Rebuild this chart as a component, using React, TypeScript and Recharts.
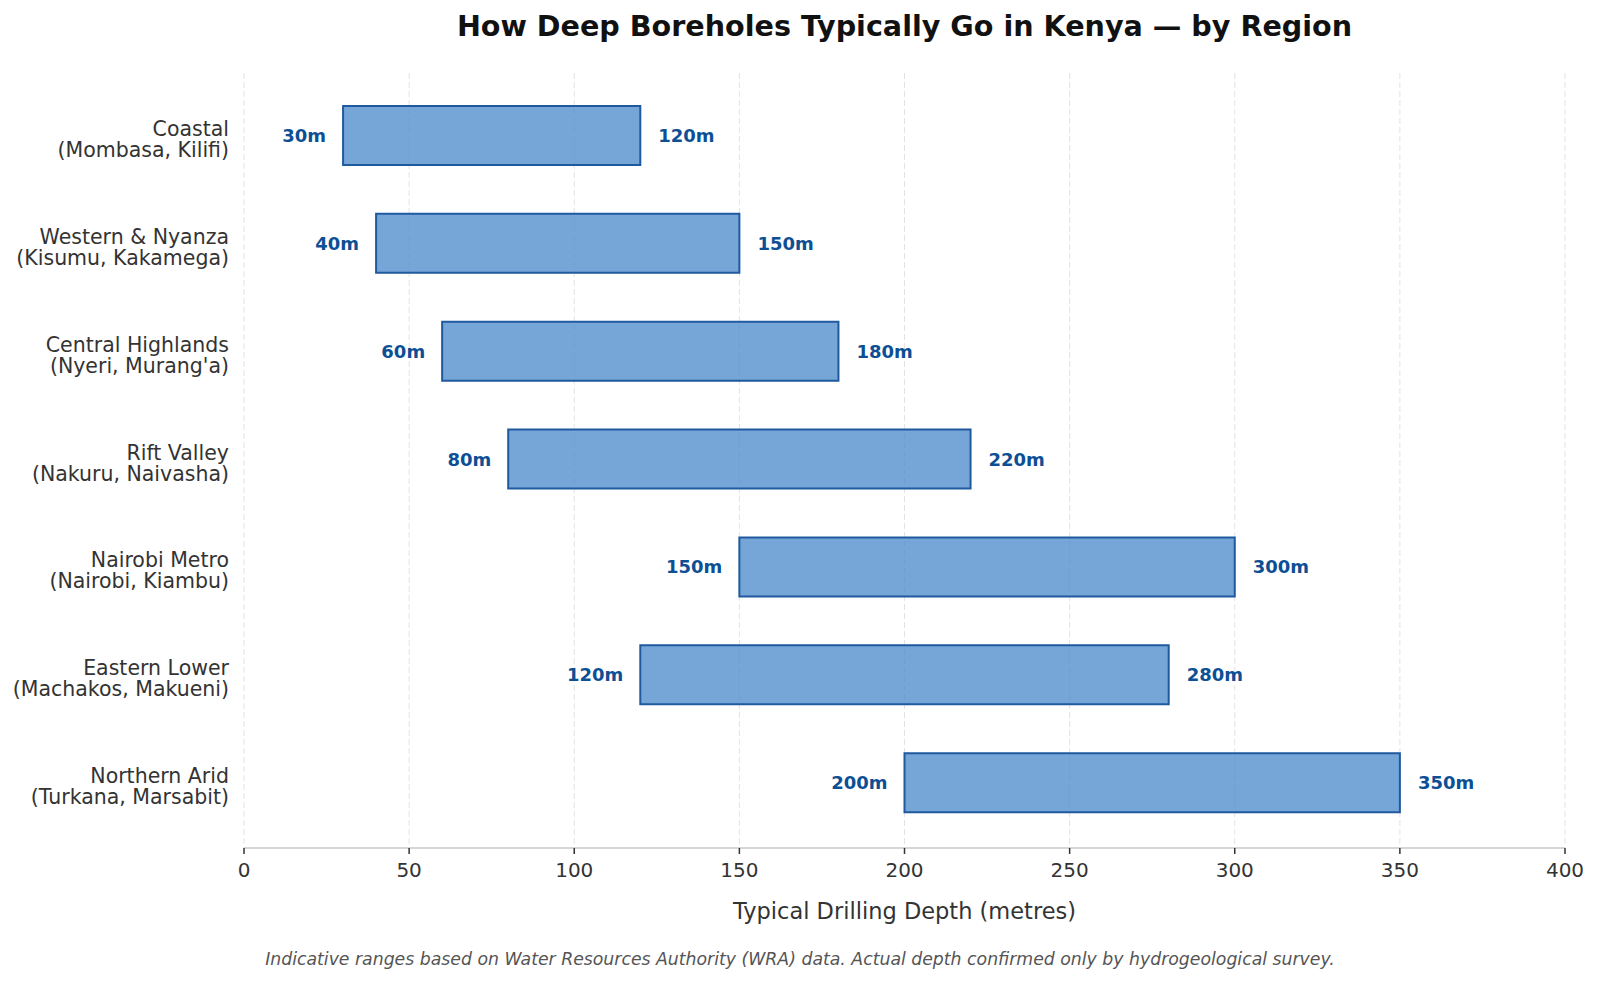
import React from "react";
import {
  BarChart,
  Bar,
  XAxis,
  YAxis,
  CartesianGrid,
  LabelList,
} from "recharts";

const regions = [
  "Coastal",
  "Western & Nyanza",
  "Central Highlands",
  "Rift Valley",
  "Nairobi Metro",
  "Eastern Lower",
  "Northern Arid",
];
const counties = [
  "(Mombasa, Kilifi)",
  "(Kisumu, Kakamega)",
  "(Nyeri, Murang'a)",
  "(Nakuru, Naivasha)",
  "(Nairobi, Kiambu)",
  "(Machakos, Makueni)",
  "(Turkana, Marsabit)",
];
const minDepth = [30, 40, 60, 80, 150, 120, 200];
const maxDepth = [120, 150, 180, 220, 300, 280, 350];
const xTicks = [0, 50, 100, 150, 200, 250, 300, 350, 400];

const FONT = "'DejaVu Sans', Verdana, sans-serif";
const LABEL_BLUE = "#0d4f94";

const data = regions.map((r, i) => ({
  name: r,
  sub: counties[i],
  min: minDepth[i],
  max: maxDepth[i],
  span: maxDepth[i] - minDepth[i],
}));

function RegionTick(props: any) {
  const { x, y, payload, index } = props;
  const sub = counties[index] ?? data.find((d) => d.name === payload.value)?.sub;
  return (
    <text textAnchor="end" fontFamily={FONT} fontSize={20.5} fill="#333">
      <tspan x={x} y={y}>{payload.value}</tspan>
      <tspan x={x} y={y + 21}>{sub}</tspan>
    </text>
  );
}

function MinLabel(props: any) {
  const { x, y, width, height, value } = props;
  return (
    <text
      x={x + width - 17}
      y={y + height / 2}
      textAnchor="end"
      dominantBaseline="central"
      fontFamily={FONT}
      fontSize={18}
      fontWeight="bold"
      fill={LABEL_BLUE}
    >
      {`${value}m`}
    </text>
  );
}

function MaxLabel(props: any) {
  const { x, y, width, height, value } = props;
  return (
    <text
      x={x + width + 18}
      y={y + height / 2}
      textAnchor="start"
      dominantBaseline="central"
      fontFamily={FONT}
      fontSize={18}
      fontWeight="bold"
      fill={LABEL_BLUE}
    >
      {`${value}m`}
    </text>
  );
}

export default function App() {
  return (
    <div style={{ position: "relative", width: 1600, height: 983, background: "#fff", fontFamily: FONT }}>
      <style>{`body{margin:0}`}</style>
      <div
        style={{
          position: "absolute",
          left: 244,
          width: 1321,
          top: 8,
          lineHeight: "36px",
          textAlign: "center",
          fontSize: 28.6,
          fontWeight: "bold",
          color: "#111",
        }}
      >
        How Deep Boreholes Typically Go in Kenya — by Region
      </div>
      <BarChart
        width={1600}
        height={983}
        data={data}
        layout="vertical"
        margin={{ top: 73, right: 35, bottom: 95, left: 44 }}
      >
        <CartesianGrid horizontal={false} stroke="#e3e3e3" strokeDasharray="6 3" />
        <XAxis
          type="number"
          domain={[0, 400]}
          ticks={xTicks}
          height={40}
          tick={{ fill: "#333", fontSize: 20, fontFamily: FONT }}
          axisLine={{ stroke: "#c8c8c8", strokeWidth: 1.5 }}
          tickLine={{ stroke: "#333", strokeWidth: 1.5 }}
          tickSize={6}
          tickMargin={9}
        />
        <YAxis
          type="category"
          dataKey="name"
          width={200}
          padding={{ top: 9, bottom: 11 }}
          axisLine={false}
          tickLine={false}
          tickSize={0}
          tickMargin={15}
          tick={<RegionTick />}
          interval={0}
        />
        <Bar dataKey="min" stackId="a" fill="transparent" barSize={59} isAnimationActive={false}>
          <LabelList dataKey="min" content={<MinLabel />} />
        </Bar>
        <Bar
          dataKey="span"
          stackId="a"
          fill="#4887cb"
          fillOpacity={0.75}
          stroke="#1f5a9e"
          strokeWidth={2}
          barSize={59}
          isAnimationActive={false}
        >
          <LabelList dataKey="max" content={<MaxLabel />} />
        </Bar>
      </BarChart>
      <div
        style={{
          position: "absolute",
          left: 244,
          width: 1321,
          top: 897,
          lineHeight: "28px",
          textAlign: "center",
          fontSize: 22.5,
          color: "#333",
        }}
      >
        Typical Drilling Depth (metres)
      </div>
      <div
        style={{
          position: "absolute",
          left: 0,
          width: 1600,
          top: 947,
          lineHeight: "24px",
          textAlign: "center",
          fontSize: 17.3,
          fontStyle: "italic",
          color: "#555",
        }}
      >
        Indicative ranges based on Water Resources Authority (WRA) data. Actual depth confirmed only by hydrogeological survey.
      </div>
    </div>
  );
}
